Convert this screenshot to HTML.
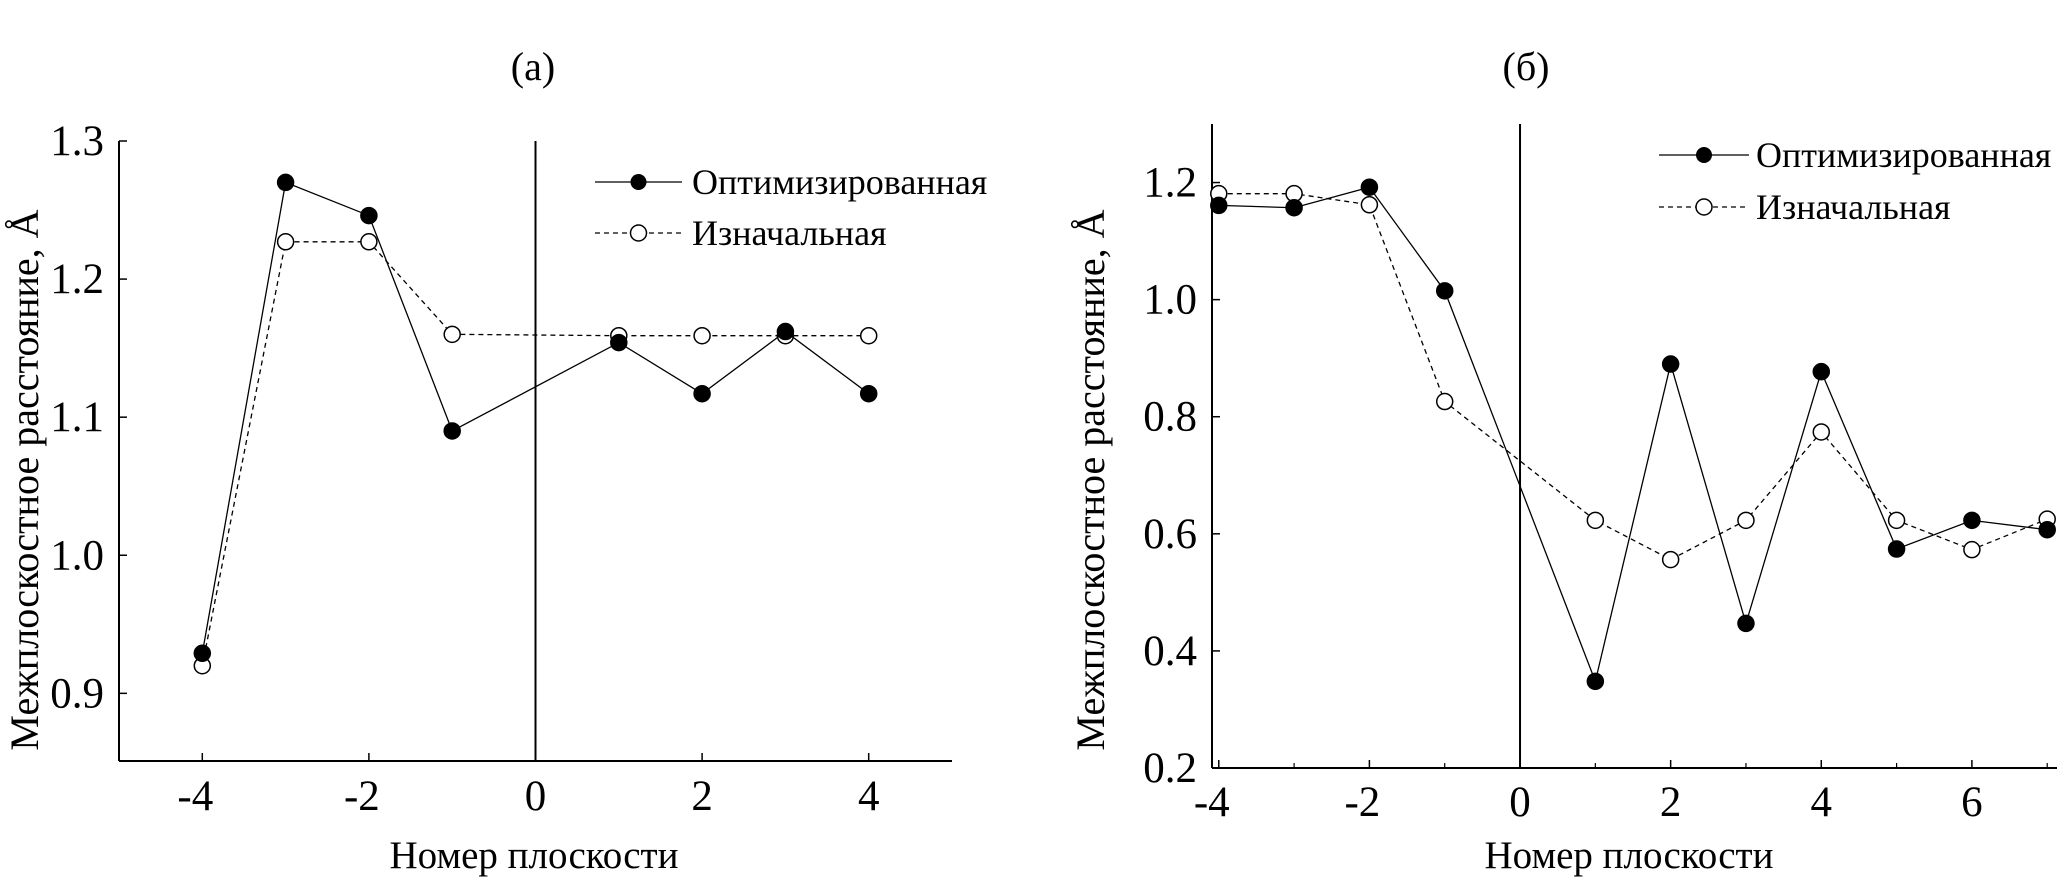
<!DOCTYPE html>
<html><head><meta charset="utf-8"><style>
html,body{margin:0;padding:0;background:#fff;}
svg text{font-family:"Liberation Serif",serif;fill:#000;}
</style></head><body>
<svg id="svg" width="2067" height="879" viewBox="0 0 2067 879" xmlns="http://www.w3.org/2000/svg"></svg>
<script>
const xA = [-4,-3,-2,-1,1,2,3,4];
const optA = [0.929,1.270,1.246,1.090,1.154,1.117,1.162,1.117];
const initA = [0.920,1.227,1.227,1.160,1.159,1.159,1.159,1.159];
const yTicksA = [0.9,1.0,1.1,1.2,1.3];
const xTicksA = [-4,-2,0,2,4];

const xB = [-4,-3,-2,-1,1,2,3,4,5,6,7];
const optB = [1.161,1.157,1.192,1.015,0.348,0.890,0.447,0.877,0.574,0.623,0.607];
const initB = [1.181,1.181,1.162,0.826,0.623,0.556,0.623,0.774,0.623,0.573,0.625];
const yTicksB = [0.2,0.4,0.6,0.8,1.0,1.2];
const xTicksB = [-4,-2,0,2,4,6];
const xMinorB = [-3,-1,1,3,5,7];

const NS = "http://www.w3.org/2000/svg";
const svg = document.getElementById('svg');
function mk(tag, attrs, parent){
  const e = document.createElementNS(NS, tag);
  for (const k in attrs) e.setAttribute(k, attrs[k]);
  (parent||svg).appendChild(e);
  return e;
}
function txt(s, attrs, parent){ const t = mk('text', attrs, parent); t.textContent = s; return t; }

function chart(cfg){
  const g = mk('g', {});
  
  
  const X = v => cfg.x0 + (v - cfg.xd[0]) / (cfg.xd[1] - cfg.xd[0]) * (cfg.x1 - cfg.x0);
  const Y = v => cfg.y1 - (v - cfg.yd[0]) / (cfg.yd[1] - cfg.yd[0]) * (cfg.y1 - cfg.y0);
  const ya = mk('line', {x1:cfg.x0, y1:cfg.y0, x2:cfg.x0, y2:cfg.y1, stroke:'#000','stroke-width':2}, g);
  
  
  const xa = mk('line', {x1:cfg.x0, y1:cfg.y1, x2:cfg.x1, y2:cfg.y1, stroke:'#000','stroke-width':2}, g);
  
  
  const zl = mk('line', {x1:X(0), y1:cfg.y0, x2:X(0), y2:cfg.y1, stroke:'#000','stroke-width':2}, g);
  
  
  cfg.yt.forEach(v => {
    mk('line', {x1:cfg.x0, y1:Y(v), x2:cfg.x0+8, y2:Y(v), stroke:'#000','stroke-width':1.5}, g);
    const t = txt(v.toFixed(1), {x:cfg.ylx, y:Y(v)+14, 'font-size':43, 'text-anchor':'end'}, g);
    
    
  });
  cfg.xt.forEach(v => {
    mk('line', {x1:X(v), y1:cfg.y1, x2:X(v), y2:cfg.y1-8, stroke:'#000','stroke-width':1.5}, g);
    const t = txt(String(v), {x:X(v)-(v<0?7:0), y:cfg.xly, 'font-size':43, 'text-anchor':'middle'}, g);
    
    
  });
  (cfg.xm||[]).forEach(v => {
    mk('line', {x1:X(v), y1:cfg.y1, x2:X(v), y2:cfg.y1-5, stroke:'#000','stroke-width':1.2}, g);
  });
  function series(xs, ys, filled, dash, nm){
    const pts = xs.map((x,i) => X(x)+','+Y(ys[i])).join(' ');
    const pl = mk('polyline', {points:pts, fill:'none', stroke:'#000', 'stroke-width':1.3, 'stroke-dasharray':dash}, g);
    
    
    xs.forEach((x,i) => {
      const c = mk('circle', {cx:X(x), cy:Y(ys[i]), r:8, fill:filled?'#000':'#fff', stroke:'#000','stroke-width':1.5}, g);
      
      
    });
  }
  series(cfg.xs, cfg.init, false, '5,4', 'initial');
  series(cfg.xs, cfg.opt, true, 'none', 'optimized');
  const L = cfg.leg;
  const l1 = mk('g', {}, g);
  
  
  mk('line', {x1:L.x0, y1:L.y1, x2:L.x1, y2:L.y1, stroke:'#000','stroke-width':1.3}, l1);
  mk('circle', {cx:(L.x0+L.x1)/2, cy:L.y1, r:8, fill:'#000'}, l1);
  txt('Оптимизированная', {x:L.tx, y:L.y1+12, 'font-size':36}, l1);
  const l2 = mk('g', {}, g);
  
  
  mk('line', {x1:L.x0, y1:L.y2, x2:L.x1, y2:L.y2, stroke:'#000','stroke-width':1.3,'stroke-dasharray':'5,4'}, l2);
  mk('circle', {cx:(L.x0+L.x1)/2, cy:L.y2, r:8, fill:'#fff', stroke:'#000','stroke-width':1.5}, l2);
  txt('Изначальная', {x:L.tx, y:L.y2+12, 'font-size':36}, l2);
  const yt = txt('Межплоскостное расстояние, Å', {x:0, y:0, 'font-size':40, 'text-anchor':'middle', transform:'translate('+cfg.ytx+',480) rotate(-90)'}, g);
  
  
  const xt = txt('Номер плоскости', {x:cfg.xtx, y:868, 'font-size':39, 'text-anchor':'middle'}, g);
  
  
  const pt = txt(cfg.title, {x:cfg.ptx, y:80, 'font-size':40, 'text-anchor':'middle'}, g);
  
  
}

chart({name:'chart-a', x0:119, x1:952, y0:141, y1:761, xd:[-5,5], yd:[0.851,1.3],
  xs:xA, opt:optA, init:initA, yt:yTicksA, xt:xTicksA, ylx:104, xly:810,
  leg:{x0:595, x1:682, y1:182, y2:233, tx:692}, ytx:38, xtx:534, ptx:533, title:'(a)'});
chart({name:'chart-b', x0:1212, x1:2057, y0:124, y1:768, xd:[-4.09,7.13], yd:[0.2,1.3],
  xs:xB, opt:optB, init:initB, yt:yTicksB, xt:xTicksB, xm:xMinorB, ylx:1197, xly:816,
  leg:{x0:1659, x1:1749, y1:155, y2:207, tx:1756}, ytx:1104, xtx:1629, ptx:1526, title:'(б)'});
</script>
</body></html>
